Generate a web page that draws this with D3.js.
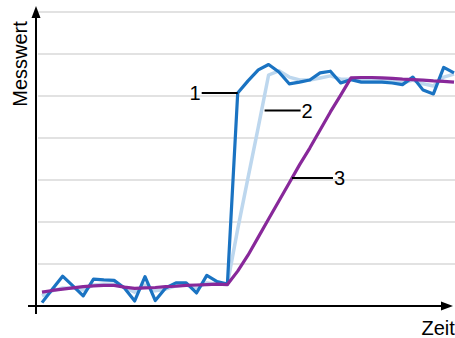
<!DOCTYPE html>
<html>
<head>
<meta charset="utf-8">
<script src="https://cdn.jsdelivr.net/npm/d3@7"></script>
<style>
  html, body { margin: 0; padding: 0; background: #fff; }
  svg { display: block; font-family: "Liberation Sans", Arial, sans-serif; }
</style>
</head>
<body>
<svg id="chart" width="455" height="338"></svg>
<script>
// Samples (time steps 0..40) of the measured signal and two filtered responses
const steps = d3.range(41);

// 1: raw measurement (noisy step)
const raw = [0.08, 0.40, 0.71, 0.48, 0.24, 0.64, 0.62, 0.61, 0.43, 0.12,
             0.70, 0.13, 0.43, 0.55, 0.55, 0.31, 0.73, 0.58, 0.52, 5.07,
             5.36, 5.62, 5.75, 5.57, 5.29, 5.33, 5.38, 5.55, 5.59, 5.31,
             5.39, 5.33, 5.33, 5.33, 5.31, 5.27, 5.45, 5.14, 5.05, 5.68, 5.55];

// 2: lightly smoothed
const smoothLight = [0.24, 0.36, 0.43, 0.43, 0.38, 0.50, 0.52, 0.52, 0.45, 0.33,
                     0.50, 0.36, 0.40, 0.48, 0.50, 0.43, 0.55, 0.52, 0.52, 1.83,
                     3.05, 4.26, 5.50, 5.60, 5.45, 5.38, 5.38, 5.43, 5.48, 5.40,
                     5.40, 5.38, 5.38, 5.38, 5.36, 5.31, 5.38, 5.29, 5.24, 5.45, 5.52];

// 3: strongly smoothed (slow ramp)
const smoothStrong = [0.33, 0.37, 0.40, 0.43, 0.46, 0.48, 0.49, 0.49, 0.45, 0.42,
                      0.43, 0.44, 0.46, 0.47, 0.49, 0.50, 0.51, 0.52, 0.51, 0.83,
                      1.21, 1.64, 2.07, 2.50, 2.93, 3.36, 3.76, 4.19, 4.62, 5.02,
                      5.43, 5.44, 5.44, 5.43, 5.42, 5.40, 5.39, 5.38, 5.36, 5.35, 5.33];

const gridValues = [1, 2, 3, 4, 5, 6, 7];
const axisTitles = { y: "Messwert", x: "Zeit" };

// Callouts: series, fractional step where the leader touches the line, leader length, label
const callouts = [
  { values: raw,          t: 19,    len: -36, gap: 0, label: "1" },
  { values: smoothLight,  t: 21.32, len: 36,  gap: 3, label: "2" },
  { values: smoothStrong, t: 24.27, len: 41,  gap: 0, label: "3" }
];

const svg = d3.select("#chart");
const x = d3.scaleLinear().domain([0, 40]).range([42, 454]);
const y = d3.scaleLinear().domain([0, 7]).range([306, 12]);

// horizontal grid
svg.append("g")
  .selectAll("line")
  .data(gridValues)
  .join("line")
  .attr("x1", 38).attr("x2", 455)
  .attr("y1", d => y(d)).attr("y2", d => y(d))
  .attr("stroke", "#e2e2e2")
  .attr("stroke-width", 2);

// series lines
const line = vals => d3.line().x(i => x(i)).y(i => y(vals[i]))(steps);
const series = [
  { values: smoothLight,  color: "#bdd7ee", width: 3.5 },
  { values: raw,          color: "#1a73c2", width: 3.2 },
  { values: smoothStrong, color: "#88289a", width: 3.2 }
];
svg.append("g")
  .selectAll("path")
  .data(series)
  .join("path")
  .attr("d", d => line(d.values))
  .attr("fill", "none")
  .attr("stroke", d => d.color)
  .attr("stroke-width", d => d.width)
  .attr("stroke-linejoin", "round");

// axes with arrowheads
const axes = svg.append("g");
axes.append("line")
  .attr("x1", 36).attr("x2", 36)
  .attr("y1", 314).attr("y2", 16)
  .attr("stroke", "#000").attr("stroke-width", 2);
axes.append("path")
  .attr("d", "M36,6 L31.5,18 L40.5,18 Z")
  .attr("fill", "#000");
axes.append("line")
  .attr("x1", 28).attr("x2", 443)
  .attr("y1", 306).attr("y2", 306)
  .attr("stroke", "#000").attr("stroke-width", 2);
axes.append("path")
  .attr("d", "M453,306 L441,301.5 L441,310.5 Z")
  .attr("fill", "#000");

axes.append("text")
  .attr("transform", "translate(27,64) rotate(-90)")
  .attr("text-anchor", "middle")
  .attr("font-size", 20)
  .text(axisTitles.y);
axes.append("text")
  .attr("x", 421.5).attr("y", 334.5)
  .attr("font-size", 20)
  .text(axisTitles.x);

// callouts
const valueAt = (vals, t) => {
  const i = Math.floor(t), f = t - i;
  return i >= vals.length - 1 ? vals[vals.length - 1] : vals[i] + (vals[i + 1] - vals[i]) * f;
};
const cg = svg.append("g");
callouts.forEach(c => {
  const px = x(c.t) + Math.sign(c.len) * c.gap;
  const py = y(valueAt(c.values, c.t));
  const ex = px + c.len;
  cg.append("line")
    .attr("x1", px).attr("x2", ex)
    .attr("y1", py).attr("y2", py)
    .attr("stroke", "#000").attr("stroke-width", 2);
  cg.append("text")
    .attr("x", c.len < 0 ? ex - 1 : ex + 1)
    .attr("y", py)
    .attr("dy", "0.36em")
    .attr("text-anchor", c.len < 0 ? "end" : "start")
    .attr("font-size", 20)
    .text(c.label);
});
</script>
</body>
</html>
